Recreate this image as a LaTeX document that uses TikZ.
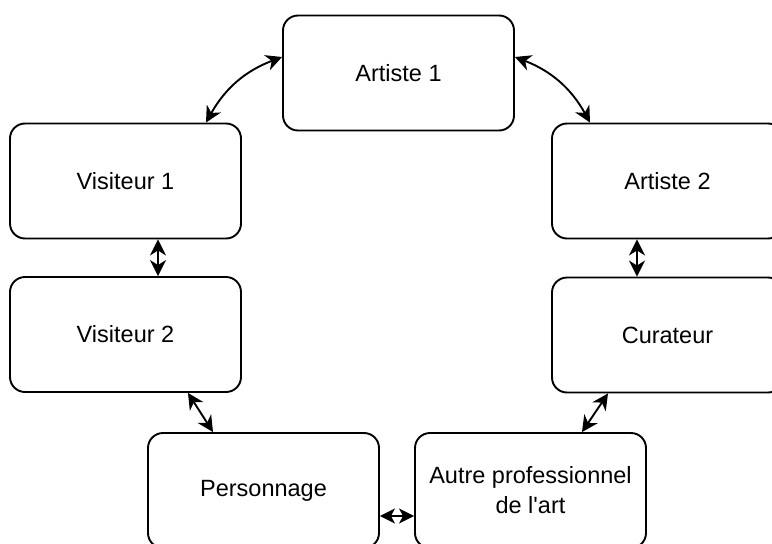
\documentclass[tikz,border=0pt]{standalone}
\usepackage{fontspec}
\setmainfont{Liberation Sans}
\newfontfamily\boxfont{Liberation Sans}
\usetikzlibrary{arrows.meta}
\tikzset{
  box/.style={draw=black, line width=1.9pt, rounded corners=15pt, minimum width=231pt, minimum height=115pt, align=center, font=\boxfont\fontsize{23.5}{30}\selectfont, fill=white},
  link/.style={line width=1.9pt, {Stealth[length=16pt,width=16pt,inset=5pt]}-{Stealth[length=16pt,width=16pt,inset=5pt]}}
}
\begin{document}
\begin{tikzpicture}[x=1pt,y=-1pt]
\useasboundingbox (0,0) rectangle (772,544);
\clip (0,0) rectangle (772,544);
\fill[white] (0,0) rectangle (772,544);
\node[box] (a1) at (398.5,73) {Artiste 1};
\node[box] (v1) at (125.5,181) {Visiteur 1};
\node[box] (v2) at (125.5,334.5) {Visiteur 2};
\node[box] (a2) at (667.5,181) {Artiste 2};
\node[box] (cu) at (667.5,335) {Curateur};
\node[box] (pe) at (263.5,490.5) {Personnage};
\node[box] (au) at (530.5,490.5) {Autre professionnel\\de l'art};
\draw[link] ([xshift=80.5pt]v1.north) to[bend left=20] ([yshift=16pt]a1.west);
\draw[link] ([yshift=16pt]a1.east) to[bend left=20] ([xshift=-77.5pt]a2.north);
\draw[link] ([xshift=32.5pt]v1.south) -- ([xshift=32.5pt]v2.north);
\draw[link] ([xshift=-30.5pt]a2.south) -- ([xshift=-30.5pt]cu.north);
\draw[link] ([xshift=62.5pt]v2.south) -- ([xshift=-50.5pt]pe.north);
\draw[link] ([xshift=-59.5pt]cu.south) -- ([xshift=51.5pt]au.north);
\draw[line width=1.9pt,{Stealth[length=15pt,width=15pt,inset=4pt]}-{Stealth[length=15pt,width=15pt,inset=4pt]}] ([yshift=-25.5pt]pe.east) -- ([yshift=-25.5pt]au.west);
\end{tikzpicture}
\end{document}
